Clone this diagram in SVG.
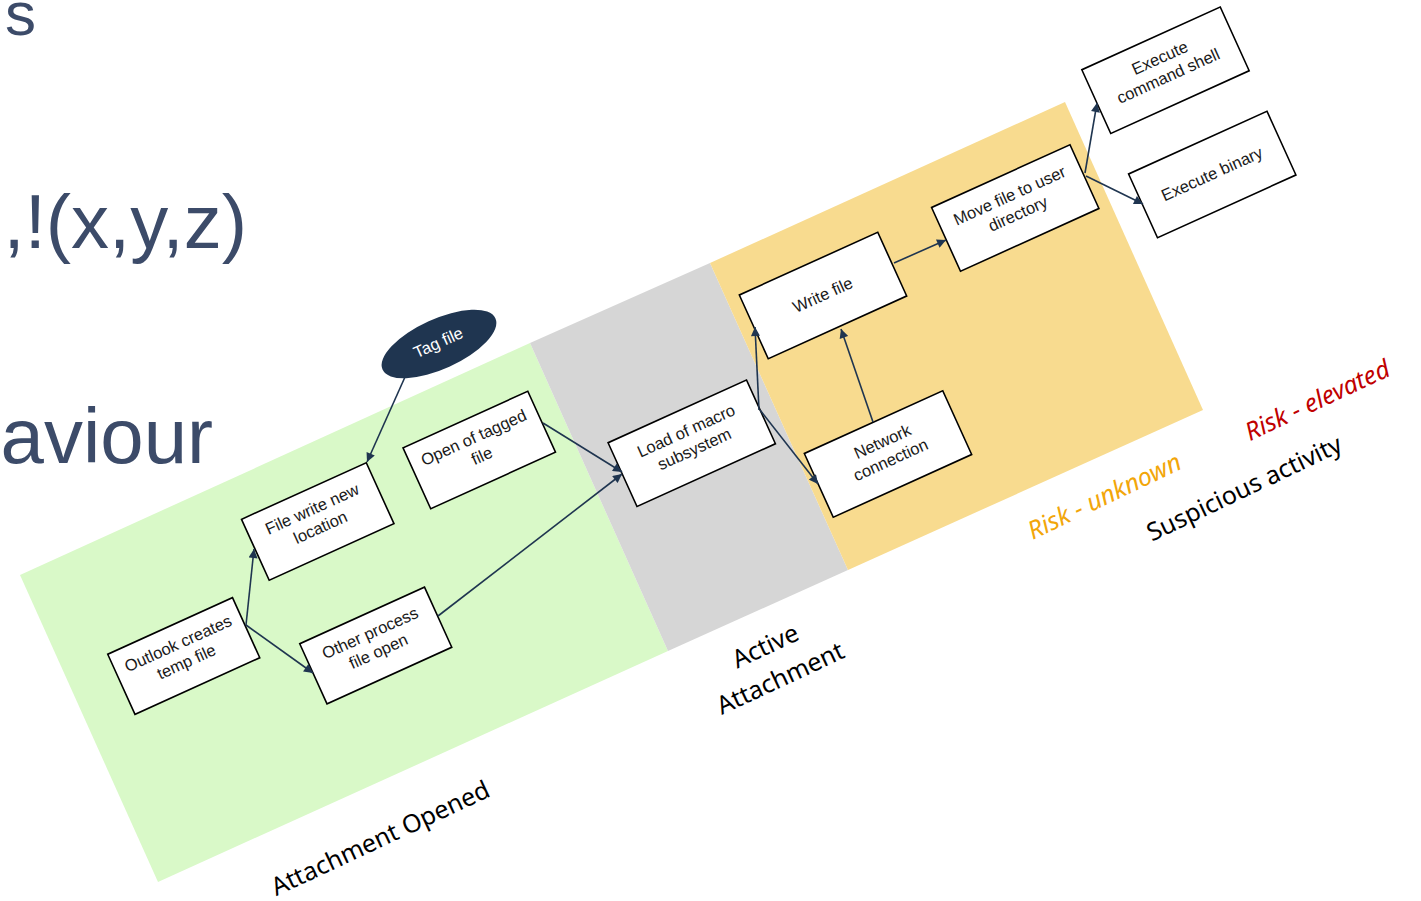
<svg xmlns="http://www.w3.org/2000/svg" width="1421" height="901" viewBox="0 0 1421 901">
<defs>
<style>
.title{font-family:"Liberation Sans",Arial,sans-serif;fill:#3C4B69;}
.box{fill:#ffffff;stroke:#000000;stroke-width:1.6;}
.bt{font-family:"Liberation Sans",Arial,sans-serif;font-size:16.5px;fill:#1a1a1a;text-anchor:middle;}
.lbl{font-family:"Noto Sans","Liberation Sans",sans-serif;font-size:25px;text-anchor:middle;}
.con{fill:none;stroke:#1F3550;stroke-width:1.6;}
</style>
<marker id="arr" viewBox="0 0 10 10" refX="10" refY="5" markerWidth="11" markerHeight="9" markerUnits="userSpaceOnUse" orient="auto">
<path d="M0,0 L10,5 L0,10 z" fill="#1F3550"/>
</marker>
</defs>
<rect width="1421" height="901" fill="#ffffff"/>

<g id="title-fragments">
<text class="title" x="36" y="35" font-size="62" text-anchor="end">s</text>
<text class="title" x="247" y="248" font-size="76" text-anchor="end">,!(x,y,z)</text>
<text class="title" x="213" y="463" font-size="78" text-anchor="end">aviour</text>
</g>

<g id="regions">
<polygon id="zone-attachment-opened" points="20,575 530,343 668,651 158,882" fill="#D9F9C8"/>
<polygon id="zone-active-attachment" points="530,343 710,263 848,570 668,651" fill="#D6D6D6"/>
<polygon id="zone-risk-unknown" points="710,263 1065,102 1203,410 848,570" fill="#F8DB8F"/>
</g>

<g id="n-outlook" transform="translate(183.75,656) rotate(-24.4)">
<rect class="box" x="-68.5" y="-33" width="137" height="66"/>
<text class="bt" x="0" y="-8">Outlook creates</text>
<text class="bt" x="0" y="12">temp file</text>
</g>
<g id="n-filewrite" transform="translate(317.75,521.5) rotate(-24.4)">
<rect class="box" x="-68.5" y="-33.5" width="137" height="67"/>
<text class="bt" x="0" y="-8">File write new</text>
<text class="bt" x="0" y="12">location</text>
</g>
<g id="n-opentagged" transform="translate(479.25,450) rotate(-24.4)">
<rect class="box" x="-68.5" y="-33.5" width="137" height="67"/>
<text class="bt" x="0" y="-8">Open of tagged</text>
<text class="bt" x="0" y="12">file</text>
</g>
<g id="n-otherprocess" transform="translate(375.75,645.5) rotate(-24.4)">
<rect class="box" x="-68.5" y="-33" width="137" height="66"/>
<text class="bt" x="0" y="-8">Other process</text>
<text class="bt" x="0" y="12">file open</text>
</g>
<g id="n-tagfile" transform="translate(439,344) rotate(-24.4)">
<ellipse cx="0" cy="0" rx="62" ry="25" fill="#1F3550"/>
<text class="bt" x="0" y="4" style="fill:#ffffff">Tag file</text>
</g>
<g id="n-loadmacro" transform="translate(691.75,443.25) rotate(-24.4)">
<rect class="box" x="-76" y="-35" width="152" height="70"/>
<text class="bt" x="0" y="-8">Load of macro</text>
<text class="bt" x="0" y="12">subsystem</text>
</g>
<g id="n-writefile" transform="translate(823,295.5) rotate(-24.4)">
<rect class="box" x="-76" y="-35" width="152" height="70"/>
<text class="bt" x="0" y="5">Write file</text>
</g>
<g id="n-network" transform="translate(888,454) rotate(-24.4)">
<rect class="box" x="-76" y="-35" width="152" height="70"/>
<text class="bt" x="0" y="-8">Network</text>
<text class="bt" x="0" y="12">connection</text>
</g>
<g id="n-movefile" transform="translate(1015.25,208) rotate(-24.4)">
<rect class="box" x="-76" y="-35" width="152" height="70"/>
<text class="bt" x="0" y="-8">Move file to user</text>
<text class="bt" x="0" y="12">directory</text>
</g>
<g id="n-execshell" transform="translate(1165.5,70.25) rotate(-24.4)">
<rect class="box" x="-76" y="-35" width="152" height="70"/>
<text class="bt" x="0" y="-8">Execute</text>
<text class="bt" x="0" y="12">command shell</text>
</g>
<g id="n-execbinary" transform="translate(1212.25,174.5) rotate(-24.4)">
<rect class="box" x="-76" y="-35" width="152" height="70"/>
<text class="bt" x="0" y="5">Execute binary</text>
</g>

<g id="connectors">
<line class="con" x1="246" y1="625" x2="254" y2="549" marker-end="url(#arr)"/>
<line class="con" x1="246" y1="625" x2="313" y2="673" marker-end="url(#arr)"/>
<line class="con" x1="405" y1="377" x2="367" y2="462" marker-end="url(#arr)"/>
<line class="con" x1="543" y1="423" x2="622" y2="472" marker-end="url(#arr)"/>
<line class="con" x1="438" y1="616" x2="622" y2="474" marker-end="url(#arr)"/>
<line class="con" x1="759" y1="410" x2="755" y2="327" marker-end="url(#arr)"/>
<line class="con" x1="760" y1="410" x2="818" y2="484" marker-end="url(#arr)"/>
<line class="con" x1="873" y1="422" x2="841" y2="329" marker-end="url(#arr)"/>
<line class="con" x1="894" y1="263" x2="946" y2="240" marker-end="url(#arr)"/>
<line class="con" x1="1085" y1="173" x2="1097" y2="103" marker-end="url(#arr)"/>
<line class="con" x1="1086" y1="176" x2="1143" y2="204" marker-end="url(#arr)"/>
</g>

<g id="labels">
<text class="lbl" fill="#000000" transform="translate(384,846) rotate(-25)">Attachment Opened</text>
<text class="lbl" fill="#000000" transform="translate(769,654) rotate(-25)">Active</text>
<text class="lbl" fill="#000000" transform="translate(784,686) rotate(-25)">Attachment</text>
<text class="lbl" fill="#F2A60A" font-style="italic" transform="translate(1108,504) rotate(-25.5)">Risk - unknown</text>
<text class="lbl" fill="#C00000" font-style="italic" transform="translate(1321,408) rotate(-25)">Risk - elevated</text>
<text class="lbl" fill="#000000" transform="translate(1248,496) rotate(-25.5)">Suspicious activity</text>
</g>
</svg>
